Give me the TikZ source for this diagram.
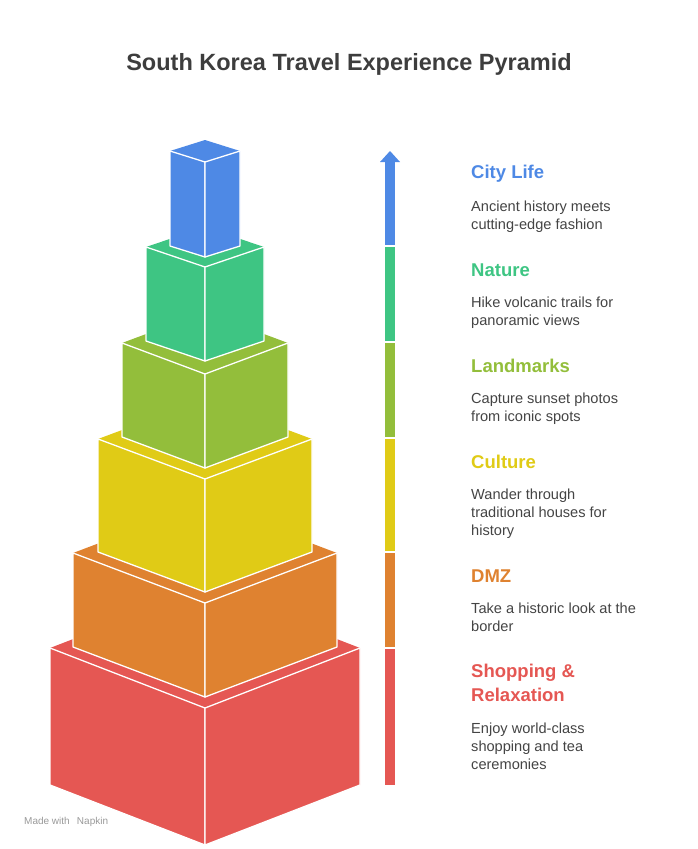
\documentclass[tikz,border=0pt]{standalone}
\usepackage{fontspec}
\setmainfont{Liberation Sans}
\definecolor{cblue}{HTML}{4E89E5}
\definecolor{cgreen}{HTML}{3EC583}
\definecolor{clime}{HTML}{93BE3B}
\definecolor{cyellow}{HTML}{E0CB16}
\definecolor{corange}{HTML}{DF8230}
\definecolor{cred}{HTML}{E55753}
\definecolor{ctext}{HTML}{444444}
\newcommand\pybox[5]{% color, halfwidth, ytop, drop, height
  \fill[#1] (205-#2,#3) -- (205,#3-#4) -- (205+#2,#3) -- (205,#3+#4) -- cycle;
  \filldraw[#1,draw=white,line width=1.3pt,line join=round] (205-#2,#3) -- (205,#3+#4) -- (205,#3+#4+#5) -- (205-#2,#3+#5) -- cycle;
  \filldraw[#1,draw=white,line width=1.3pt,line join=round] (205+#2,#3) -- (205,#3+#4) -- (205,#3+#4+#5) -- (205+#2,#3+#5) -- cycle;
}
\tikzset{
  ttl/.style={anchor=west,font=\fontsize{18.5}{20}\selectfont\bfseries,inner sep=0pt,align=left},
  body/.style={anchor=north west,font=\fontsize{14.6}{18}\selectfont,text=ctext,inner sep=0pt,align=left},
  seg/.style={draw=none}
}
\begin{document}
\begin{tikzpicture}[x=1pt,y=-1pt]
\useasboundingbox (0,0) rectangle (698,849);
\node[font=\fontsize{23.5}{26}\selectfont\bfseries,text=ctext!90!black] (title) at (349,64) {South Korea Travel Experience Pyramid};
\pybox{cred}{155}{648}{60}{137}
\pybox{corange}{132}{553}{50}{94}
\pybox{cyellow}{107}{439}{40}{113}
\pybox{clime}{83}{343}{31}{94}
\pybox{cgreen}{59}{247}{20}{94}
\pybox{cblue}{35}{151}{11}{95}
% arrow
\fill[cblue] (385,160) rectangle (395,245);
\fill[cblue] (380,162) -- (390,151) -- (400,162) -- cycle;
\fill[cgreen] (385,247) rectangle (395,341);
\fill[clime] (385,343) rectangle (395,437);
\fill[cyellow] (385,439) rectangle (395,551);
\fill[corange] (385,553) rectangle (395,647);
\fill[cred] (385,649) rectangle (395,785);
% labels
\node[ttl,text=cblue] (t1) at (471,174) {City Life};
\node[body] (b1) at (471,201) {Ancient history meets\\cutting-edge fashion};
\node[ttl,text=cgreen] (t2) at (471,270) {Nature};
\node[body] (b2) at (471,297) {Hike volcanic trails for\\panoramic views};
\node[ttl,text=clime] (t3) at (471,366) {Landmarks};
\node[body] (b3) at (471,393) {Capture sunset photos\\from iconic spots};
\node[ttl,text=cyellow] (t4) at (471,462) {Culture};
\node[body] (b4) at (471,489) {Wander through\\traditional houses for\\history};
\node[ttl,text=corange] (t5) at (471,576) {DMZ};
\node[body] (b5) at (471,603) {Take a historic look at the\\border};
\node[ttl,text=cred,anchor=north west,font=\fontsize{18.5}{24}\selectfont\bfseries] (t6) at (471,664) {Shopping \&\\Relaxation};
\node[body] (b6) at (471,723) {Enjoy world-class\\shopping and tea\\ceremonies};
\node[anchor=west,font=\fontsize{10}{12}\selectfont,text=black!40,inner sep=0pt] (mw) at (24,822) {Made with \, Napkin};
\end{tikzpicture}
\end{document}
